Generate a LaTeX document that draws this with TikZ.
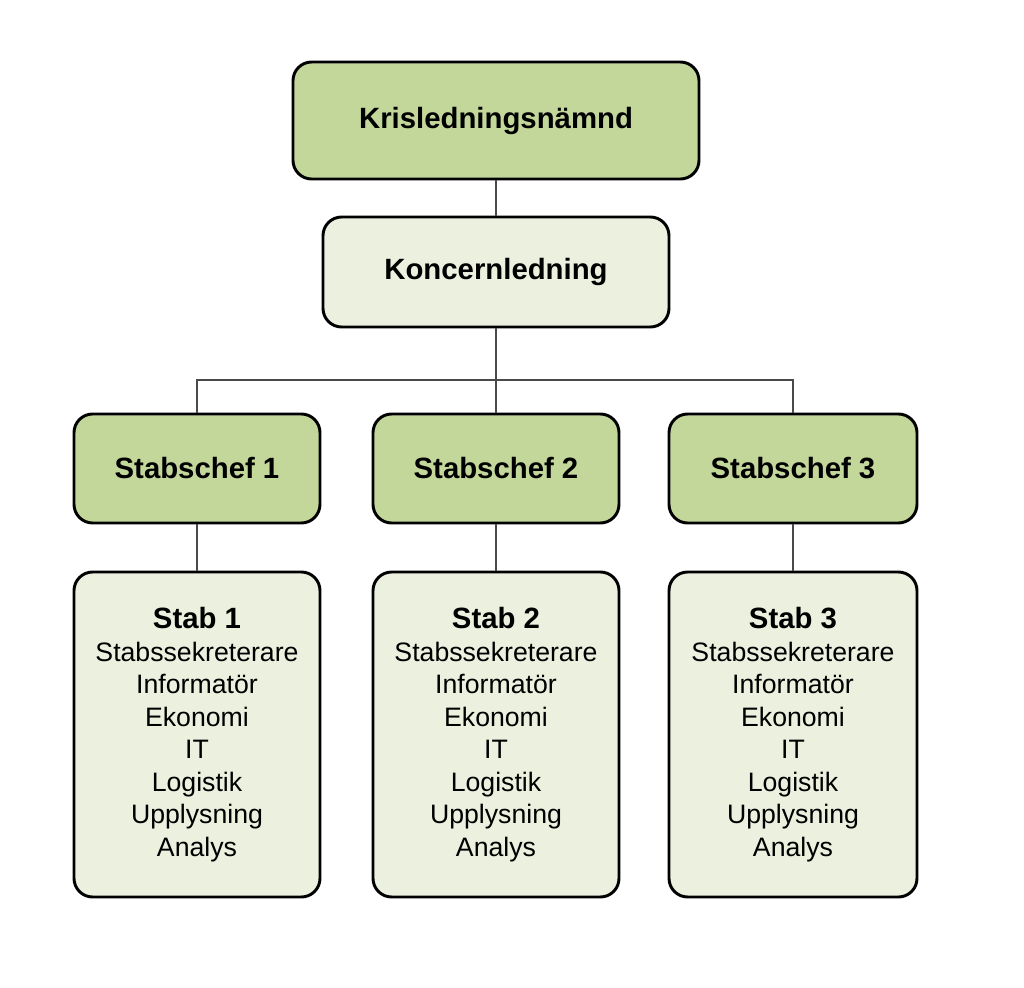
\documentclass[tikz,border=0pt]{standalone}
\usepackage{fontspec}
\setmainfont{Liberation Sans}
\definecolor{darkgreen}{HTML}{C4D79B}
\definecolor{lightgreen}{HTML}{EBF1DE}
\definecolor{linegrey}{HTML}{4A4A4A}
\begin{document}
\begin{tikzpicture}[x=0.75pt,y=-0.75pt,
  box/.style={draw=black,line width=2.2pt,rounded corners=14pt,align=center,inner sep=0pt},
  dark/.style={box,fill=darkgreen},
  light/.style={box,fill=lightgreen},
  head/.style={font=\fontsize{22}{26}\selectfont\bfseries},
  staff/.style={light,minimum width=184.5pt,minimum height=243.75pt,font=\fontsize{20}{24.4}\selectfont},
  conn/.style={draw=linegrey,line width=1.1pt}]
\useasboundingbox (0,0) rectangle (1024,988);
\fill[white] (0,0) rectangle (1024,988);
\node[dark,head,minimum width=304.5pt,minimum height=87.75pt] (top) at (496,120.5) {Krisledningsnämnd};
\node[light,head,minimum width=259.5pt,minimum height=82.5pt] (kon) at (496,272) {Koncernledning};
\node[dark,head,minimum width=184.5pt,minimum height=81.75pt] (sc1) at (197,468.5) {Stabschef 1};
\node[dark,head,minimum width=184.5pt,minimum height=81.75pt] (sc2) at (496,468.5) {Stabschef 2};
\node[dark,head,minimum width=186pt,minimum height=81.75pt] (sc3) at (793,468.5) {Stabschef 3};
\node[staff] (st1) at (197,734.5) {{\fontsize{22}{24.4}\selectfont\bfseries Stab 1}\\Stabssekreterare\\Informatör\\Ekonomi\\IT\\Logistik\\Upplysning\\Analys};
\node[staff] (st2) at (496,734.5) {{\fontsize{22}{24.4}\selectfont\bfseries Stab 2}\\Stabssekreterare\\Informatör\\Ekonomi\\IT\\Logistik\\Upplysning\\Analys};
\node[staff,minimum width=186pt] (st3) at (793,734.5) {{\fontsize{22}{24.4}\selectfont\bfseries Stab 3}\\Stabssekreterare\\Informatör\\Ekonomi\\IT\\Logistik\\Upplysning\\Analys};
\coordinate (bus) at (496,380);
\begin{scope}[on background layer/.try]
\end{scope}
\draw[conn] (top.south) -- (kon.north);
\draw[conn] (kon.south) -- (sc2.north);
\draw[conn] (sc1.north) |- (bus) -| (sc3.north);
\draw[conn] (sc1.south) -- (st1.north);
\draw[conn] (sc2.south) -- (st2.north);
\draw[conn] (sc3.south) -- (st3.north);
\end{tikzpicture}
\end{document}
